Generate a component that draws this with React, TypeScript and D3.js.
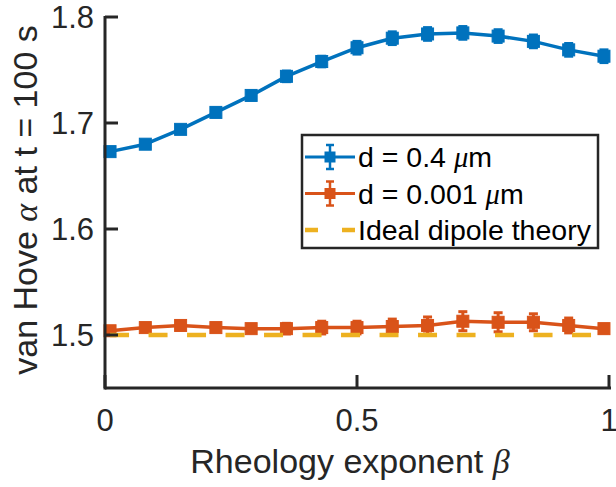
import React from "react";
import * as d3 from "d3";

const betaValues = [0.01, 0.08, 0.15, 0.22, 0.29, 0.36, 0.43, 0.5, 0.57, 0.64, 0.71, 0.78, 0.85, 0.92, 0.99];
const alphaD04 = [1.673, 1.680, 1.694, 1.710, 1.726, 1.744, 1.758, 1.771, 1.780, 1.784, 1.785, 1.782, 1.777, 1.769, 1.763];
const errD04 = [0.003, 0.003, 0.003, 0.004, 0.004, 0.005, 0.005, 0.006, 0.006, 0.006, 0.006, 0.006, 0.006, 0.006, 0.006];
const alphaD0001 = [1.504, 1.507, 1.509, 1.507, 1.506, 1.506, 1.507, 1.507, 1.508, 1.509, 1.513, 1.512, 1.512, 1.509, 1.506];
const errD0001 = [0.003, 0.003, 0.003, 0.003, 0.003, 0.005, 0.006, 0.006, 0.007, 0.008, 0.009, 0.009, 0.008, 0.007, 0.004];
const idealValue = 1.5;
const xTicks = [0, 0.5, 1];
const yTicks = [1.5, 1.6, 1.7, 1.8];

const BLUE = "#0072BD";
const ORANGE = "#D95319";
const YELLOW = "#EDB120";
const AX = "#262626";
const FONT = "'Liberation Sans', Arial, Helvetica, sans-serif";
const GREEK = "'Liberation Serif', 'DejaVu Serif', serif";

export default function App() {
  const W = 616, H = 487;
  const x = d3.scaleLinear().domain([0, 1]).range([105, 609]);
  const y = d3.scaleLinear().domain([1.45, 1.8]).range([388, 17]);
  const line = d3.line<number>().x((_, i) => x(betaValues[i])).y((d) => y(d));

  const series = [
    { vals: alphaD04, errs: errD04, color: BLUE },
    { vals: alphaD0001, errs: errD0001, color: ORANGE },
  ];
  const ms = 12;
  const cap = 4.5;

  const drawErr = (cx: number, cy: number, e: number, color: string, k: string) => {
    const t = y(cy - e), b = y(cy + e);
    return (
      <g key={k} stroke={color} strokeWidth={3} fill="none">
        <line x1={cx} x2={cx} y1={t} y2={b} />
        <line x1={cx - cap} x2={cx + cap} y1={t} y2={t} />
        <line x1={cx - cap} x2={cx + cap} y1={b} y2={b} />
      </g>
    );
  };

  return (
    <svg width={W} height={H} style={{ position: "absolute", left: 0, top: 0, background: "#fff" }}>
      <rect x={0} y={0} width={W} height={H} fill="#fff" />
      {series.map((s, si) => (
        <g key={si}>
          <path d={line(s.vals) || ""} fill="none" stroke={s.color} strokeWidth={3.5} strokeLinejoin="round" />
          {s.vals.map((v, i) => drawErr(x(betaValues[i]), v, s.errs[i], s.color, `e${si}-${i}`))}
          {s.vals.map((v, i) => (
            <rect key={i} x={x(betaValues[i]) - ms / 2} y={y(v) - ms / 2} width={ms} height={ms} fill={s.color} stroke={s.color} strokeWidth={1} />
          ))}
        </g>
      ))}
      <line x1={x(betaValues[0])} x2={x(betaValues[betaValues.length - 1])} y1={y(idealValue)} y2={y(idealValue)}
        stroke={YELLOW} strokeWidth={4.5} strokeDasharray="19 19.5" />

      {/* axes */}
      <g stroke={AX} strokeWidth={3} fill="none">
        <line x1={x(0) } x2={x(1) + 2} y1={y(1.45)} y2={y(1.45)} />
        <line x1={x(0)} x2={x(0)} y1={y(1.8) - 1} y2={y(1.45) + 1.5} />
        {xTicks.map((t) => (
          <line key={t} x1={x(t)} x2={x(t)} y1={y(1.45)} y2={y(1.45) - 13} />
        ))}
        {yTicks.map((t) => (
          <line key={t} x1={x(0)} x2={x(0) + 13} y1={y(t)} y2={y(t)} />
        ))}
      </g>
      <g fill={AX} fontFamily={FONT} fontSize={31}>
        {xTicks.map((t) => (
          <text key={t} x={x(t)} y={431} textAnchor="middle">{String(t)}</text>
        ))}
        {yTicks.map((t) => (
          <text key={t} x={94} y={y(t) + 11} textAnchor="end">{t.toFixed(1)}</text>
        ))}
      </g>
      <g fill={AX} fontFamily={FONT} fontSize={34}>
        <text x={350} y={473} textAnchor="middle">
          Rheology exponent <tspan fontFamily={GREEK} fontStyle="italic">β</tspan>
        </text>
        <text transform="translate(37,200) rotate(-90)" textAnchor="middle">
          van Hove <tspan fontFamily={GREEK} fontStyle="italic">α</tspan> at t = 100 s
        </text>
      </g>

      {/* legend */}
      <g>
        <rect x={302} y={135} width={296} height={113} fill="#fff" stroke={AX} strokeWidth={2.5} />
        {[BLUE, ORANGE].map((c, i) => {
          const cy = 157 + i * 36.5;
          return (
            <g key={i} stroke={c} fill="none">
              <line x1={305} x2={355} y1={cy} y2={cy} strokeWidth={3} />
              <line x1={330} x2={330} y1={cy - 12} y2={cy + 12} strokeWidth={2.5} />
              <line x1={326} x2={334} y1={cy - 12} y2={cy - 12} strokeWidth={2.5} />
              <line x1={326} x2={334} y1={cy + 12} y2={cy + 12} strokeWidth={2.5} />
              <rect x={325} y={cy - 5} width={10} height={10} fill={c} strokeWidth={1} />
            </g>
          );
        })}
        <line x1={305} x2={355} y1={230} y2={230} stroke={YELLOW} strokeWidth={4.5} strokeDasharray="13 24 13" />
        <g fill="#000" fontFamily={FONT} fontSize={28.5}>
          <text x={358} y={167}>d = 0.4 <tspan fontFamily={GREEK} fontStyle="italic">μ</tspan>m</text>
          <text x={358} y={203.5}>d = 0.001 <tspan fontFamily={GREEK} fontStyle="italic">μ</tspan>m</text>
          <text x={358} y={240}>Ideal dipole theory</text>
        </g>
      </g>
    </svg>
  );
}
